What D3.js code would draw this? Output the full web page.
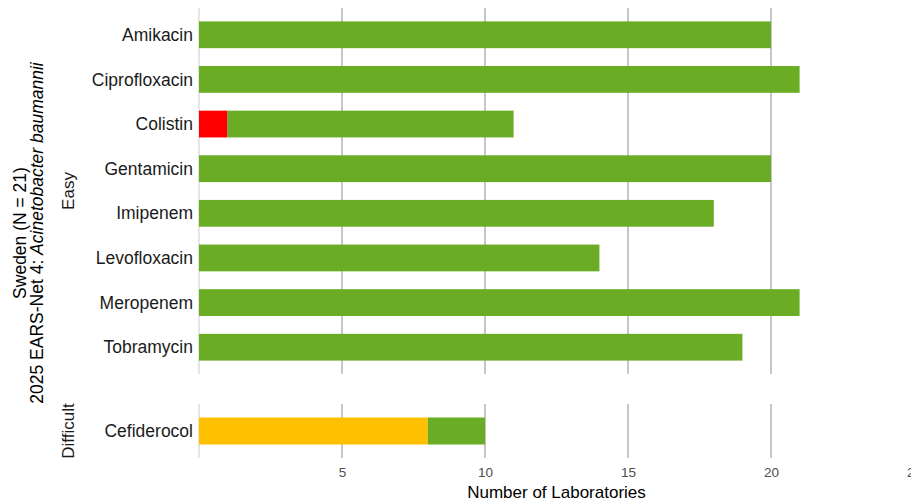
<!DOCTYPE html>
<html>
<head>
<meta charset="utf-8">
<script src="https://cdn.jsdelivr.net/npm/d3@7"></script>
<style>
  html, body { margin: 0; padding: 0; background: #fff; }
  svg { display: block; font-family: "Liberation Sans", Arial, sans-serif; }
</style>
</head>
<body>
<svg id="chart" width="911" height="503"></svg>
<script>
// ---- Data ----
const categories = ["Amikacin", "Ciprofloxacin", "Colistin", "Gentamicin", "Imipenem",
                    "Levofloxacin", "Meropenem", "Tobramycin", "Cefiderocol"];
const difficulty = ["Easy", "Easy", "Easy", "Easy", "Easy", "Easy", "Easy", "Easy", "Difficult"];
const groups = ["Easy", "Difficult"];
const seriesKeys = ["red", "yellow", "green"];
const valuesRed    = [0, 0, 1, 0, 0, 0, 0, 0, 0];
const valuesYellow = [0, 0, 0, 0, 0, 0, 0, 0, 8];
const valuesGreen  = [20, 21, 10, 20, 18, 14, 21, 19, 2];
const xTicks = [5, 10, 15, 20, 25];
const gridTicks = [0, 5, 10, 15, 20, 25];
const xTitle = "Number of Laboratories";
const yTitle1 = "Sweden (N = 21)";
const yTitle2a = "2025 EARS-Net 4: ";
const yTitle2b = "Acinetobacter baumannii";

const colors = { red: "#ff0000", yellow: "#ffc000", green: "#6aad25" };

const rows = categories.map((c, i) => ({
  category: c, group: difficulty[i],
  red: valuesRed[i], yellow: valuesYellow[i], green: valuesGreen[i]
}));

// ---- Layout ----
const svg = d3.select("#chart");
const x = d3.scaleLinear().domain([0, 25]).range([199, 914]);
const panels = {
  Easy: [8, 374],
  Difficult: [404, 458]
};
const bandScales = {};
groups.forEach(g => {
  bandScales[g] = d3.scaleBand()
    .domain(rows.filter(r => r.group === g).map(r => r.category))
    .range(panels[g])
    .paddingInner(0.4)
    .paddingOuter(0.3);
});

// grid lines
groups.forEach(g => {
  const [y0, y1] = panels[g];
  svg.append("g").selectAll("line")
    .data(gridTicks)
    .join("line")
    .attr("x1", d => x(d)).attr("x2", d => x(d))
    .attr("y1", y0).attr("y2", y1)
    .attr("stroke", d => d === 0 ? "#dcdcdc" : "#c6c6c6")
    .attr("stroke-width", d => d === 0 ? 1.5 : 2);
});

// stacked bars
const stack = d3.stack().keys(seriesKeys);
const stacked = stack(rows);
stacked.forEach(layer => {
  svg.append("g")
    .attr("fill", colors[layer.key])
    .selectAll("rect")
    .data(layer.filter(d => d[1] - d[0] > 0))
    .join("rect")
    .attr("x", d => x(d[0]))
    .attr("width", d => x(d[1]) - x(d[0]))
    .attr("y", d => bandScales[d.data.group](d.data.category))
    .attr("height", d => bandScales[d.data.group].bandwidth());
});

// category labels
groups.forEach(g => {
  const band = bandScales[g];
  svg.append("g").selectAll("text")
    .data(band.domain())
    .join("text")
    .attr("x", 193)
    .attr("y", d => band(d) + band.bandwidth() / 2)
    .attr("dy", "0.35em")
    .attr("text-anchor", "end")
    .attr("font-size", 17.5)
    .attr("fill", "#1a1a1a")
    .text(d => d);
});

// strip labels
groups.forEach(g => {
  const [y0, y1] = panels[g];
  svg.append("text")
    .attr("transform", `translate(74,${(y0 + y1) / 2}) rotate(-90)`)
    .attr("text-anchor", "middle")
    .attr("font-size", 17)
    .attr("fill", "#1a1a1a")
    .text(g);
});

// x axis tick labels
const xAxis = d3.axisBottom(x).tickValues(xTicks).tickSize(0).tickPadding(0);
const axG = svg.append("g").attr("transform", "translate(0,477)").call(xAxis);
axG.select(".domain").remove();
axG.selectAll("text")
  .attr("y", 0).attr("dy", null)
  .attr("font-size", 13.5)
  .attr("font-family", "Liberation Sans, Arial, sans-serif")
  .attr("fill", "#4d4d4d");

// x title
svg.append("text")
  .attr("x", (x(0) + x(25)) / 2)
  .attr("y", 498)
  .attr("text-anchor", "middle")
  .attr("font-size", 17)
  .attr("fill", "#000")
  .text(xTitle);

// y title
const yc = (panels.Easy[0] + panels.Difficult[1]) / 2;
svg.append("text")
  .attr("transform", `translate(26,${yc}) rotate(-90)`)
  .attr("text-anchor", "middle")
  .attr("font-size", 17.5)
  .attr("fill", "#000")
  .text(yTitle1);
const t2 = svg.append("text")
  .attr("transform", `translate(42.5,${yc}) rotate(-90)`)
  .attr("text-anchor", "middle")
  .attr("font-size", 17.5)
  .attr("fill", "#000");
t2.append("tspan").text(yTitle2a);
t2.append("tspan").attr("font-style", "italic").text(yTitle2b);
</script>
</body>
</html>
